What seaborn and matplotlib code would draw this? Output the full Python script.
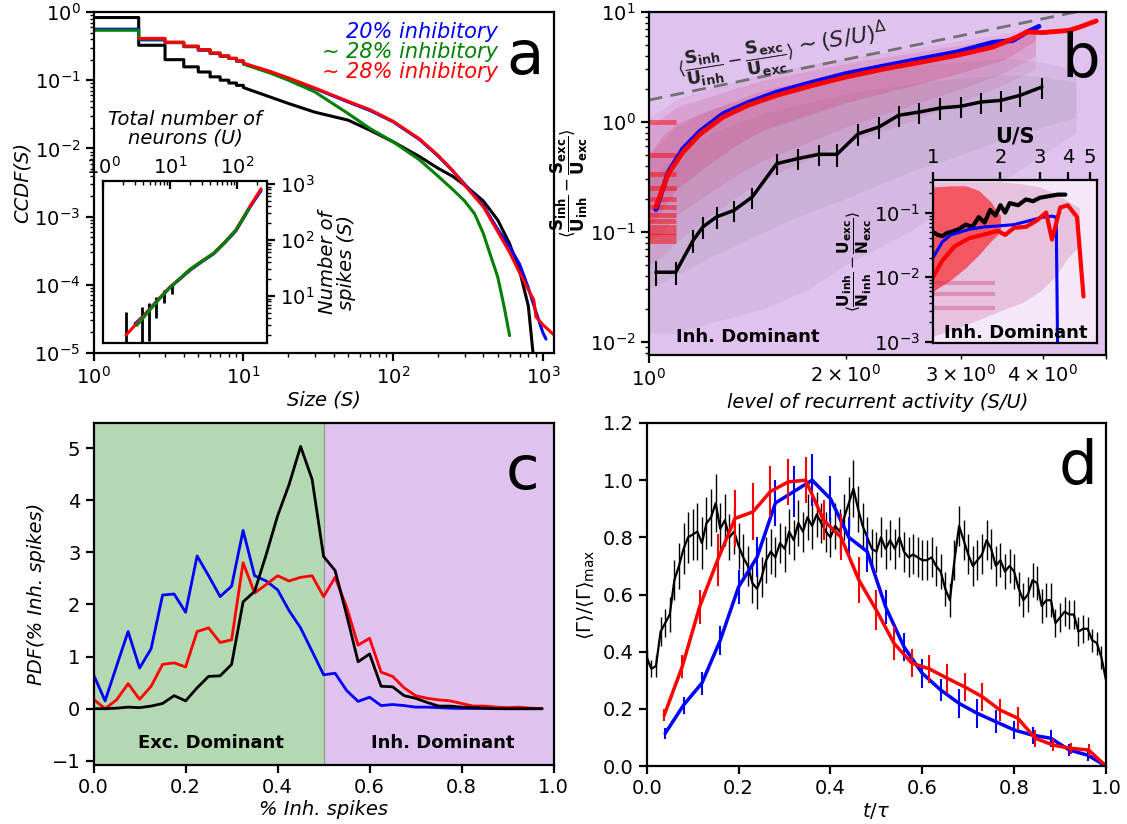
import numpy as np
import matplotlib
matplotlib.use('Agg')
import matplotlib.pyplot as plt
import matplotlib.ticker as mticker
import seaborn as sns

# ---------------- data: panel a (CCDF of avalanche size) ----------------
step_S = [1, 2, 3, 4, 5, 6, 7, 8, 9, 10]
blk_step = [0.83, 0.325, 0.2, 0.157, 0.132, 0.112, 0.1, 0.091, 0.084, 0.078]
blu_step = [0.56, 0.39, 0.355, 0.31, 0.275, 0.246, 0.224, 0.208, 0.19, 0.175]
grn_step = [0.54, 0.40, 0.36, 0.315, 0.28, 0.25, 0.226, 0.208, 0.19, 0.172]
red_step_S = [2, 3, 4, 5, 6, 7, 8, 9, 10]
red_step = [0.41, 0.36, 0.315, 0.28, 0.25, 0.228, 0.21, 0.193, 0.178]

blk_tail_S = [10, 15, 20, 30, 50, 70, 100, 150, 200, 250, 300, 400, 500, 600, 700, 800, 860]
blk_tail = [0.078, 0.057, 0.0456, 0.034, 0.026, 0.0185, 0.0125, 0.0076, 0.0051, 0.0039,
            0.0029, 0.0017, 8.9e-4, 4.0e-4, 1.6e-4, 4.9e-5, 1.0e-5]
blu_tail_S = [10, 15, 20, 30, 50, 70, 100, 150, 200, 250, 300, 400, 500, 600, 700, 800, 900, 1000, 1050]
blu_tail = [0.175, 0.133, 0.106, 0.0755, 0.048, 0.036, 0.0246, 0.0135, 0.0077, 0.0047, 0.003,
            0.00145, 6.5e-4, 3.6e-4, 2.0e-4, 9e-5, 4e-5, 2.0e-5, 1.6e-5]
grn_tail_S = [10, 15, 20, 30, 50, 70, 100, 150, 200, 250, 300, 350, 400, 450, 500, 550, 600]
grn_tail = [0.172, 0.128, 0.1, 0.0675, 0.0325, 0.0196, 0.0125, 0.0068, 0.0039, 0.0025, 0.0017,
            0.0011, 5.7e-4, 2.6e-4, 1.3e-4, 4.9e-5, 1.8e-5]
red_tail_S = [10, 15, 20, 30, 50, 70, 100, 150, 200, 250, 300, 400, 500, 600, 700, 800, 870, 900, 1000, 1200]
red_tail = [0.178, 0.135, 0.108, 0.077, 0.049, 0.037, 0.025, 0.0138, 0.0079, 0.0047, 0.0029,
            0.0014, 6.0e-4, 3.0e-4, 1.5e-4, 8.5e-5, 6e-5, 3.4e-5, 2.6e-5, 1.8e-5]

# inset a: number of spikes vs number of neurons
ins_U_red = [2.2, 3, 4, 5, 7, 10, 15, 20, 30, 45, 65, 96, 125, 156, 190, 228]
ins_S_red = [2.0, 3.0, 4.3, 5.8, 9.2, 14.5, 22, 30, 42, 58, 90, 150, 255, 400, 580, 820]
ins_U_blu = [3, 4, 5, 7, 10, 15, 20, 30, 45, 65, 96, 125, 156, 190, 228]
ins_S_blu = [3.2, 4.4, 5.9, 9.2, 14.2, 21.5, 29, 41, 57, 88, 145, 245, 385, 550, 760]
ins_U_grn = [3.2, 4, 5, 7, 10, 15, 20, 30, 45, 65, 96, 125, 150]
ins_S_grn = [3.0, 4.1, 5.6, 9.0, 14.2, 22, 30, 42, 58, 90, 150, 250, 360]
ins_U_blk = [2.2, 3.8, 4.9, 6.2, 8.2, 10.7]
ins_S_blk = [2.0, 4.3, 5.8, 8.2, 11.5, 15.0]
ins_blk_lo = [1.0, 3.0, 4.2, 4.2, 4.0, 4.0]
ins_blk_hi = [3.2, 2.1, 1.7, 1.4, 1.5, 1.5]

# ---------------- data: panel b ----------------
b_red_x = [1.026, 1.072, 1.128, 1.2, 1.3, 1.42, 1.57, 1.78, 2.0, 2.3, 2.61, 2.96, 3.36, 3.65, 3.79,
           4.0, 4.39, 4.56, 4.83]
b_red_y = [0.169, 0.34, 0.53, 0.78, 1.11, 1.42, 1.75, 2.15, 2.56, 3.05, 3.5, 4.04, 4.8, 5.9, 6.6,
           6.5, 6.8, 7.3, 8.3]
b_blu_x = [1.026, 1.072, 1.128, 1.2, 1.3, 1.42, 1.57, 1.78, 2.0, 2.3, 2.61, 2.96, 3.36, 3.6, 3.79, 3.95]
b_blu_y = [0.16, 0.35, 0.57, 0.83, 1.19, 1.5, 1.87, 2.3, 2.75, 3.25, 3.76, 4.33, 5.3, 5.5, 6.6, 7.4]
b_blk_x = [1.026, 1.10, 1.17, 1.21, 1.27, 1.35, 1.44, 1.57, 1.69, 1.82, 1.94, 2.09, 2.25, 2.41,
           2.59, 2.79, 3.0, 3.22, 3.45, 3.70, 3.99]
b_blk_y = [0.043, 0.043, 0.084, 0.111, 0.137, 0.157, 0.208, 0.418, 0.464, 0.508, 0.508, 0.78, 0.90,
           1.15, 1.23, 1.34, 1.39, 1.52, 1.57, 1.75, 2.08]
b_blk_err = [0.011, 0.01, 0.02, 0.025, 0.03, 0.035, 0.045, 0.09, 0.1, 0.11, 0.12, 0.17, 0.2, 0.25,
             0.27, 0.3, 0.3, 0.33, 0.35, 0.38, 0.45]
b_dash_x = [1.0, 5.0]
b_dash_y = [1.58, 11.4]
# envelopes of the scattered single-avalanche points
cloud_x = [1.0, 1.05, 1.1, 1.2, 1.35, 1.5, 1.75, 2.0, 2.5, 3.0, 3.5, 3.9]
cloud_up_out = [1.1, 1.3, 1.6, 1.9, 2.3, 2.8, 3.3, 3.8, 4.6, 5.5, 6.3, 7.5]
cloud_lo_out = [0.05, 0.06, 0.08, 0.12, 0.2, 0.3, 0.45, 0.65, 1.0, 1.5, 2.2, 3.0]
cloud_up_mid = [0.9, 1.1, 1.35, 1.6, 2.0, 2.4, 2.9, 3.4, 4.2, 5.0, 5.8, 7.2]
cloud_lo_mid = [0.08, 0.1, 0.14, 0.2, 0.32, 0.45, 0.65, 0.9, 1.4, 2.0, 2.8, 4.0]
cloud_up_in = [0.5, 0.75, 0.95, 1.2, 1.55, 1.95, 2.4, 2.8, 3.6, 4.4, 5.3, 7.0]
cloud_lo_in = [0.11, 0.16, 0.24, 0.36, 0.6, 0.85, 1.15, 1.5, 2.1, 2.8, 3.7, 5.5]
gcloud_x = [1.0, 1.1, 1.25, 1.5, 1.75, 2.0, 2.5, 3.0, 3.5, 4.0, 4.5]
gcloud_up = [0.5, 0.9, 1.3, 1.8, 2.2, 2.6, 3.2, 3.5, 3.8, 3.5, 3.0]
gcloud_lo = [0.012, 0.012, 0.015, 0.02, 0.03, 0.05, 0.1, 0.2, 0.3, 0.5, 0.8]
gcore_up = [0.3, 0.5, 0.8, 1.2, 1.5, 1.8, 2.2, 2.5, 2.7, 2.6, 2.3]
gcore_lo = [0.03, 0.04, 0.06, 0.1, 0.15, 0.2, 0.35, 0.5, 0.7, 0.9, 1.1]
stripe_levels = [1.0, 0.5, 0.333, 0.25, 0.2, 0.167, 0.143, 0.125, 0.111, 0.1, 0.091, 0.083]

# inset b
bi_blk_x = [1.0, 1.05, 1.1, 1.15, 1.2, 1.3, 1.4, 1.5, 1.6, 1.7, 1.8, 1.9, 2.0, 2.1, 2.2, 2.4, 2.6,
            2.8, 3.0, 3.3, 3.6, 3.9]
bi_blk_y = [0.05, 0.045, 0.043, 0.048, 0.05, 0.055, 0.065, 0.06, 0.085, 0.07, 0.11, 0.09, 0.13, 0.1,
            0.14, 0.13, 0.16, 0.15, 0.17, 0.18, 0.19, 0.19]
bi_red_x = [1.0, 1.1, 1.25, 1.45, 1.7, 1.95, 2.1, 2.3, 2.6, 2.9, 3.2, 3.4, 3.7, 4.0, 4.4, 4.7]
bi_red_y = [0.01, 0.018, 0.03, 0.04, 0.046, 0.052, 0.045, 0.058, 0.06, 0.075, 0.1, 0.038, 0.12, 0.13,
            0.085, 0.005]
bi_blu_x = [1.0, 1.1, 1.2, 1.45, 1.7, 1.95, 2.3, 2.7, 3.1, 3.4, 3.55, 3.6]
bi_blu_y = [0.02, 0.035, 0.045, 0.055, 0.06, 0.062, 0.065, 0.075, 0.085, 0.088, 0.085, 0.0009]
bi_cloud_x = [1.0, 1.2, 1.5, 2.0, 2.5, 3.0, 3.5, 4.0, 4.5]
bi_cloud_up = [0.3, 0.3, 0.3, 0.3, 0.28, 0.25, 0.2, 0.15, 0.12]
bi_cloud_lo = [0.0012, 0.0015, 0.002, 0.003, 0.004, 0.006, 0.01, 0.02, 0.03]
bi_dense_x = [1.0, 1.2, 1.4, 1.6, 1.8, 2.0]
bi_dense_up = [0.25, 0.26, 0.26, 0.22, 0.15, 0.09]
bi_dense_lo = [0.006, 0.009, 0.014, 0.022, 0.035, 0.05]
bi_stripe_levels = [0.008, 0.0055, 0.0033]

# ---------------- data: panel c ----------------
c_bins = np.arange(40) * 0.025
c_blue = [0.65, 0.15, 0.82, 1.48, 0.78, 1.15, 2.18, 2.2, 1.85, 2.93, 2.55, 2.15, 2.35, 3.42, 2.55,
          2.45, 2.28, 1.88, 1.55, 1.1, 0.65, 0.68, 0.35, 0.14, 0.22, 0.06, 0.08, 0.06, 0.03, 0.03,
          0.02, 0.01, 0.005, 0.005, 0.005, 0.005, 0.0, 0.0, 0.0, 0.0]
c_red = [0.18, 0.0, 0.17, 0.48, 0.18, 0.43, 0.85, 0.88, 0.8, 1.48, 1.55, 1.27, 1.32, 2.8, 2.22,
         2.38, 2.55, 2.45, 2.52, 2.55, 2.15, 2.52, 1.95, 1.22, 1.35, 0.7, 0.62, 0.4, 0.25, 0.2,
         0.17, 0.15, 0.1, 0.05, 0.05, 0.03, 0.02, 0.03, 0.01, 0.0]
c_black = [0.0, 0.0, 0.01, 0.03, 0.02, 0.05, 0.1, 0.25, 0.15, 0.4, 0.62, 0.63, 0.85, 2.05, 2.25,
           2.95, 3.7, 4.3, 5.03, 4.4, 2.92, 2.65, 1.8, 0.9, 1.05, 0.43, 0.42, 0.25, 0.2, 0.12,
           0.05, 0.05, 0.03, 0.02, 0.01, 0.0, 0.0, 0.0, 0.0, 0.0]

# ---------------- data: panel d ----------------
d_blu_x = [0.04, 0.08, 0.12, 0.16, 0.2, 0.24, 0.28, 0.32, 0.36, 0.4, 0.44, 0.48, 0.52, 0.56, 0.6,
           0.64, 0.68, 0.72, 0.76, 0.8, 0.84, 0.88, 0.92, 0.96, 1.0]
d_blu_y = [0.114, 0.213, 0.29, 0.44, 0.627, 0.73, 0.92, 0.96, 1.0, 0.935, 0.80, 0.75, 0.557, 0.417,
           0.324, 0.266, 0.219, 0.184, 0.155, 0.126, 0.108, 0.097, 0.056, 0.038, 0.0]
d_blu_err = [0.02, 0.03, 0.04, 0.05, 0.06, 0.07, 0.08, 0.09, 0.09, 0.08, 0.07, 0.07, 0.06, 0.05,
             0.05, 0.04, 0.05, 0.05, 0.04, 0.03, 0.03, 0.03, 0.02, 0.02, 0.0]
d_red_x = [0.038, 0.077, 0.115, 0.154, 0.192, 0.231, 0.269, 0.308, 0.346, 0.385, 0.423, 0.462,
           0.5, 0.538, 0.577, 0.615, 0.654, 0.692, 0.731, 0.769, 0.808, 0.846, 0.885, 0.923,
           0.962, 1.0]
d_red_y = [0.178, 0.347, 0.557, 0.72, 0.866, 0.889, 0.96, 0.994, 1.0, 0.86, 0.80, 0.65, 0.545,
           0.43, 0.36, 0.34, 0.307, 0.277, 0.242, 0.196, 0.167, 0.097, 0.073, 0.062, 0.056, 0.0]
d_red_err = [0.02, 0.04, 0.06, 0.09, 0.1, 0.1, 0.09, 0.08, 0.08, 0.07, 0.08, 0.08, 0.07, 0.06,
             0.05, 0.05, 0.05, 0.05, 0.05, 0.04, 0.04, 0.03, 0.02, 0.02, 0.02, 0.0]
d_blk_x = np.round(np.arange(101) * 0.01, 2)
d_blk_y = [0.38, 0.34, 0.35, 0.47, 0.50, 0.53, 0.65, 0.70, 0.76, 0.80, 0.81, 0.82, 0.78, 0.85,
           0.87, 0.92, 0.83, 0.86, 0.80, 0.82, 0.77, 0.73, 0.70, 0.64, 0.62, 0.66, 0.72, 0.75,
           0.73, 0.78, 0.76, 0.82, 0.79, 0.85, 0.82, 0.87, 0.84, 0.88, 0.85, 0.82, 0.80, 0.84,
           0.82, 0.87, 0.92, 0.97, 0.90, 0.84, 0.80, 0.76, 0.75, 0.80, 0.76, 0.79, 0.76, 0.80,
           0.75, 0.73, 0.74, 0.73, 0.72, 0.72, 0.73, 0.70, 0.68, 0.62, 0.58, 0.72, 0.84, 0.79,
           0.74, 0.70, 0.72, 0.74, 0.79, 0.76, 0.70, 0.72, 0.68, 0.70, 0.68, 0.62, 0.58, 0.60,
           0.65, 0.64, 0.56, 0.58, 0.58, 0.50, 0.52, 0.54, 0.53, 0.53, 0.47, 0.48, 0.48, 0.44,
           0.43, 0.38, 0.30]
d_blk_err = [0.03, 0.03, 0.04, 0.05, 0.05, 0.06, 0.07, 0.08, 0.09, 0.09, 0.09, 0.1, 0.09, 0.09,
             0.1, 0.1, 0.09, 0.09, 0.08, 0.08, 0.08, 0.08, 0.07, 0.07, 0.07, 0.07, 0.08, 0.08,
             0.07, 0.07, 0.08, 0.08, 0.07, 0.08, 0.07, 0.08, 0.08, 0.08, 0.07, 0.07, 0.07, 0.08,
             0.08, 0.08, 0.09, 0.1, 0.08, 0.08, 0.07, 0.07, 0.07, 0.07, 0.07, 0.07, 0.07, 0.07,
             0.07, 0.07, 0.07, 0.07, 0.07, 0.07, 0.07, 0.07, 0.06, 0.06, 0.06, 0.07, 0.07, 0.07,
             0.07, 0.07, 0.07, 0.07, 0.07, 0.07, 0.07, 0.06, 0.06, 0.06, 0.06, 0.06, 0.06, 0.06,
             0.06, 0.06, 0.06, 0.06, 0.06, 0.05, 0.05, 0.05, 0.05, 0.05, 0.05, 0.05, 0.04, 0.04,
             0.04, 0.04, 0.04]

# ---------------- style ----------------
sns.set_style("ticks")
plt.rcParams.update({
    'font.family': ['DejaVu Sans'],
    'font.size': 14,
    'mathtext.fontset': 'dejavusans',
    'axes.linewidth': 1.6,
    'axes.edgecolor': 'black',
    'axes.labelcolor': 'black',
    'text.color': 'black',
    'xtick.color': 'black', 'ytick.color': 'black',
    'xtick.major.width': 1.6, 'ytick.major.width': 1.6,
    'xtick.major.size': 6, 'ytick.major.size': 6,
    'xtick.minor.width': 1.0, 'ytick.minor.width': 1.0,
    'xtick.minor.size': 3, 'ytick.minor.size': 3,
    'xtick.labelsize': 14, 'ytick.labelsize': 14,
    'axes.labelsize': 14,
})

PURPLE = '#e0c2ef'
GREEN_BG = '#b3d8b2'
INSET_BG = '#f4e7f8'

W, H = 1127, 824
fig = plt.figure(figsize=(W / 100, H / 100), dpi=100)


def add_ax(l, t, r, b):
    return fig.add_axes([l / W, 1 - b / H, (r - l) / W, (b - t) / H])


def step_path(S, C):
    xs, ys = [], []
    for i in range(len(S) - 1):
        xs += [S[i], S[i + 1]]
        ys += [C[i], C[i]]
    return xs, ys


axA = add_ax(93.6, 12, 553.6, 353)
axAi = add_ax(103, 181, 267, 343)
axB = add_ax(648.6, 12, 1106, 355)
axBi = add_ax(933, 180, 1097, 343)
axC = add_ax(93.6, 423, 553.6, 765)
axD = add_ax(646.8, 423, 1106, 766)

# ---------------- panel a ----------------
axA.set_xscale('log')
axA.set_yscale('log')
series_a = [
    (step_S, blk_step, blk_tail_S, blk_tail, 'black'),
    (step_S, blu_step, blu_tail_S, blu_tail, 'blue'),
    (step_S, grn_step, grn_tail_S, grn_tail, 'green'),
    (red_step_S, red_step, red_tail_S, red_tail, 'red'),
]
for sS, sC, tS, tC, col in series_a:
    xs, ys = step_path(sS, sC)
    xs = xs + list(tS)
    ys = ys + list(tC)
    sns.lineplot(x=xs, y=ys, sort=False, estimator=None, color=col, lw=2.2, ax=axA)
axA.set_xlim(1, 1180)
axA.set_ylim(1e-5, 1)
axA.set_xlabel('Size (S)', style='italic', labelpad=2)
axA.set_ylabel('CCDF(S)', style='italic', labelpad=2)
axA.text(0.879, 0.941, '20% inhibitory', color='blue', style='italic', fontsize=15,
         ha='right', va='center', transform=axA.transAxes)
axA.text(0.879, 0.883, '~ 28% inhibitory', color='green', style='italic', fontsize=15,
         ha='right', va='center', transform=axA.transAxes)
axA.text(0.879, 0.824, '~ 28% inhibitory', color='red', style='italic', fontsize=15,
         ha='right', va='center', transform=axA.transAxes)
axA.text(0.938, 0.868, 'a', fontsize=44, ha='center', va='center', transform=axA.transAxes)

# inset a
axAi.set_xscale('log')
axAi.set_yscale('log')
axAi.errorbar(ins_U_blk, ins_S_blk, yerr=[ins_blk_lo, ins_blk_hi], fmt='none',
              ecolor='black', elinewidth=2, capsize=0)
sns.lineplot(x=ins_U_blu, y=ins_S_blu, color='blue', lw=2.2, estimator=None, ax=axAi)
sns.lineplot(x=ins_U_red, y=ins_S_red, color='red', lw=2.2, estimator=None, ax=axAi)
sns.lineplot(x=ins_U_grn, y=ins_S_grn, color='green', lw=2.2, estimator=None, ax=axAi)
axAi.set_xlim(1, 280)
axAi.set_ylim(1.45, 1130)
axAi.xaxis.tick_top()
axAi.xaxis.set_label_position('top')
axAi.yaxis.tick_right()
axAi.yaxis.set_label_position('right')
axAi.tick_params(axis='x', which='both', direction='in', labelsize=14, pad=2)
axAi.tick_params(axis='y', which='both', direction='out', labelsize=14)
axAi.set_xlabel('Total number of\nneurons (U)', style='italic', fontsize=14,
                labelpad=9, linespacing=1.0)
axAi.set_ylabel('Number of\nspikes (S)', style='italic', fontsize=14,
                labelpad=2, linespacing=1.0)
axAi.set_facecolor('white')

# ---------------- panel b ----------------
axB.set_facecolor(PURPLE)
axB.set_xscale('log')
axB.set_yscale('log')
axB.fill_between(gcloud_x, gcloud_lo, gcloud_up, color='#505050', alpha=0.07, lw=0)
axB.fill_between(gcloud_x, gcore_lo, gcore_up, color='#505050', alpha=0.07, lw=0)
axB.fill_between(cloud_x, cloud_lo_out, cloud_up_out, color='#c03070', alpha=0.10, lw=0)
axB.fill_between(cloud_x, cloud_lo_mid, cloud_up_mid, color='#c02060', alpha=0.12, lw=0)
axB.fill_between(cloud_x, cloud_lo_in, cloud_up_in, color='#d01040', alpha=0.16, lw=0)
axB.hlines(stripe_levels, 1.0, 1.1, colors='red', alpha=0.5, lw=3.5)
sns.lineplot(x=b_dash_x, y=b_dash_y, color='#707070', lw=2, dashes=False,
             linestyle=(0, (5, 3)), estimator=None, ax=axB)
sns.lineplot(x=b_blu_x, y=b_blu_y, color='blue', lw=3.5, estimator=None, ax=axB)
sns.lineplot(x=b_red_x, y=b_red_y, color='red', lw=3.5, estimator=None, ax=axB)
axB.errorbar(b_blk_x, b_blk_y, yerr=b_blk_err, fmt='none', ecolor='black', elinewidth=1.5)
sns.lineplot(x=b_blk_x, y=b_blk_y, color='black', lw=2.5, estimator=None, ax=axB)
axB.set_xlim(1, 5)
axB.set_ylim(0.0076, 10)
axB.set_xlabel('level of recurrent activity (S/U)', style='italic', labelpad=2)
axB.set_ylabel(r'$\langle\dfrac{\mathbf{S_{inh}}}{\mathbf{U_{inh}}} - '
               r'\dfrac{\mathbf{S_{exc}}}{\mathbf{U_{exc}}}\rangle$', fontsize=12, labelpad=0)
axB.text(1.36, 3.5, r'$\langle\dfrac{\mathbf{S_{inh}}}{\mathbf{U_{inh}}} - '
         r'\dfrac{\mathbf{S_{exc}}}{\mathbf{U_{exc}}}\rangle$',
         fontsize=13, rotation=9, ha='center', va='center', color='#222222')
axB.text(1.97, 5.7, r'$\sim (S/U)^{\Delta}$',
         fontsize=16, rotation=9, ha='center', va='center', color='#222222')
axB.text(0.217, 0.052, 'Inh. Dominant', fontweight='bold', fontsize=13,
         ha='center', va='center', transform=axB.transAxes)
axB.text(0.945, 0.86, 'b', fontsize=44, ha='center', va='center', transform=axB.transAxes)

# inset b
axBi.set_facecolor(INSET_BG)
axBi.set_xscale('log')
axBi.set_yscale('log')
axBi.fill_between(bi_cloud_x, bi_cloud_lo, bi_cloud_up, color='red', alpha=0.10, lw=0)
axBi.fill_between(bi_cloud_x, bi_cloud_lo, bi_cloud_up, color='blue', alpha=0.06, lw=0)
axBi.fill_between(bi_dense_x, bi_dense_lo, bi_dense_up, color='red', alpha=0.55, lw=0)
axBi.hlines(bi_stripe_levels, 1.0, 1.9, colors='#cc3060', alpha=0.35, lw=3)
sns.lineplot(x=bi_blk_x, y=bi_blk_y, color='black', lw=3, estimator=None, ax=axBi)
sns.lineplot(x=bi_blu_x, y=bi_blu_y, color='blue', lw=2.2, estimator=None, ax=axBi)
sns.lineplot(x=bi_red_x, y=bi_red_y, color='red', lw=3, estimator=None, ax=axBi)
axBi.set_xlim(1, 5.4)
axBi.set_ylim(0.00095, 0.32)
axBi.xaxis.tick_top()
axBi.xaxis.set_label_position('top')
axBi.xaxis.set_major_locator(mticker.FixedLocator([1, 2, 3, 4, 5]))
axBi.xaxis.set_major_formatter(mticker.FixedFormatter(['1', '2', '3', '4', '5']))
axBi.xaxis.set_minor_locator(mticker.NullLocator())
axBi.tick_params(labelsize=14)
axBi.set_xlabel('U/S', fontweight='bold', fontsize=15, labelpad=4)
axBi.set_ylabel(r'$\langle\dfrac{\mathbf{U_{inh}}}{\mathbf{N_{inh}}} - '
                r'\dfrac{\mathbf{U_{exc}}}{\mathbf{N_{exc}}}\rangle$', fontsize=11, labelpad=0)
axBi.text(0.506, 0.06, 'Inh. Dominant', fontweight='bold', fontsize=13,
          ha='center', va='center', transform=axBi.transAxes)

# ---------------- panel c ----------------
axC.axvspan(0, 0.5, color=GREEN_BG, lw=0)
axC.axvspan(0.5, 1.0, color=PURPLE, lw=0)
axC.axvline(0.5, color='#8a9a8a', lw=0.8)
sns.lineplot(x=c_bins, y=c_blue, color='blue', lw=2, estimator=None, ax=axC)
sns.lineplot(x=c_bins, y=c_red, color='red', lw=2, estimator=None, ax=axC)
sns.lineplot(x=c_bins, y=c_black, color='black', lw=2, estimator=None, ax=axC)
axC.set_xlim(0, 1)
axC.set_ylim(-1.08, 5.48)
axC.set_xticks([0.0, 0.2, 0.4, 0.6, 0.8, 1.0])
axC.set_yticks([-1, 0, 1, 2, 3, 4, 5])
axC.set_xlabel('% Inh. spikes', style='italic', labelpad=2)
axC.set_ylabel('PDF(% Inh. spikes)', style='italic', labelpad=4)
axC.text(0.255, -0.65, 'Exc. Dominant', fontweight='bold', fontsize=13, ha='center', va='center')
axC.text(0.76, -0.65, 'Inh. Dominant', fontweight='bold', fontsize=13, ha='center', va='center')
axC.text(0.933, 0.854, 'c', fontsize=44, ha='center', va='center', transform=axC.transAxes)

# ---------------- panel d ----------------
axD.errorbar(d_blk_x, d_blk_y, yerr=d_blk_err, fmt='none', ecolor='black', elinewidth=1.0)
sns.lineplot(x=d_blk_x, y=d_blk_y, color='black', lw=1.6, estimator=None, ax=axD)
axD.errorbar(d_blu_x, d_blu_y, yerr=d_blu_err, fmt='none', ecolor='blue', elinewidth=1.5)
sns.lineplot(x=d_blu_x, y=d_blu_y, color='blue', lw=2.5, estimator=None, ax=axD)
axD.errorbar(d_red_x, d_red_y, yerr=d_red_err, fmt='none', ecolor='red', elinewidth=1.5)
sns.lineplot(x=d_red_x, y=d_red_y, color='red', lw=2.5, estimator=None, ax=axD)
axD.set_xlim(0, 1)
axD.set_ylim(0, 1.2)
axD.set_xticks([0.0, 0.2, 0.4, 0.6, 0.8, 1.0])
axD.set_yticks([0.0, 0.2, 0.4, 0.6, 0.8, 1.0, 1.2])
axD.set_xlabel(r'$t/\tau$', labelpad=2)
axD.set_ylabel(r'$\langle\Gamma\rangle/\langle\Gamma\rangle_{\rm max}$', labelpad=4)
axD.text(0.939, 0.869, 'd', fontsize=44, ha='center', va='center', transform=axD.transAxes)

for ax in [axA, axAi, axB, axBi, axC, axD]:
    for sp in ax.spines.values():
        sp.set_visible(True)
        sp.set_color('black')
        sp.set_linewidth(1.6)
    leg = ax.get_legend()
    if leg is not None:
        leg.remove()

fig.savefig('out.png', dpi=100)
